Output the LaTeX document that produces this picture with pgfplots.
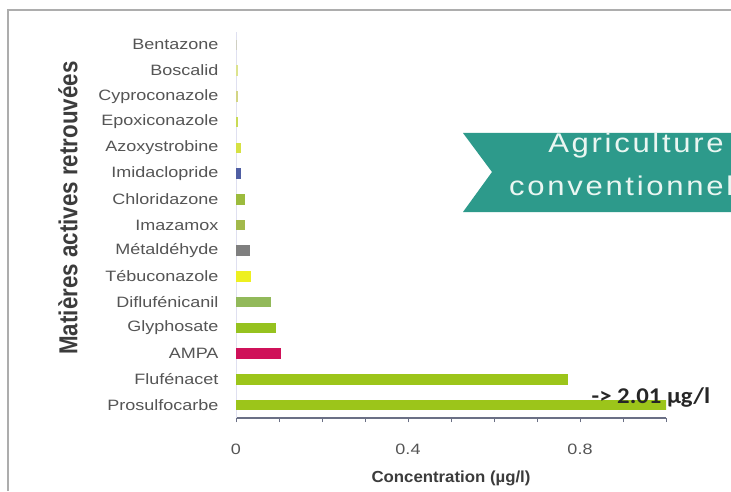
\documentclass[border=0pt]{standalone}
\usepackage{pgfplots}
\pgfplotsset{compat=1.18}
\usepackage{fontspec}
\setmainfont{Liberation Sans}
\newfontfamily\catfont[FakeStretch=1.2]{Liberation Sans}
\newfontfamily\yfont[FakeStretch=0.86]{Liberation Sans}
\newfontfamily\xfont[FakeStretch=1.05]{Liberation Sans}
\newfontfamily\bannerfont[FakeStretch=1.15,LetterSpace=10]{Liberation Sans}
\newfontfamily\notefont[FakeStretch=1.1]{Carlito}

\definecolor{framegray}{HTML}{ADADAD}
\definecolor{labelgray}{HTML}{555555}
\definecolor{titlegray}{HTML}{3C3C3C}
\definecolor{axisgray}{HTML}{6B7085}
\definecolor{ytickcol}{HTML}{C9CCE6}
\definecolor{banner}{HTML}{2D9A8B}
\definecolor{bannertext}{HTML}{EAF6F2}
\definecolor{cBenta}{HTML}{CFCFC2}
\definecolor{cBosca}{HTML}{DCE38E}
\definecolor{cCypro}{HTML}{D3D584}
\definecolor{cEpoxi}{HTML}{C9DA55}
\definecolor{cAzoxy}{HTML}{D6E143}
\definecolor{cImida}{HTML}{4F5EA3}
\definecolor{cChlor}{HTML}{9CBB3D}
\definecolor{cImaza}{HTML}{A2B94B}
\definecolor{cMetal}{HTML}{7F7F7F}
\definecolor{cTebu}{HTML}{EEF020}
\definecolor{cDiflu}{HTML}{92B95A}
\definecolor{cGlyph}{HTML}{96C21F}
\definecolor{cAMPA}{HTML}{CF1159}
\definecolor{cFlufe}{HTML}{9CC51A}
\definecolor{cProsu}{HTML}{9CC51A}

\begin{document}
\begin{tikzpicture}[x=1pt,y=1pt]
\useasboundingbox (0,0) rectangle (731,491);
\begin{scope}
  \clip (0,0) rectangle (731,491);
  \fill[white] (0,0) rectangle (731,491);
  % outer frame (top and left edges)
  \draw[framegray, line width=1.5pt] (8,0) -- (8,481) -- (740,481);
  % banner
  \fill[banner] (463,358) -- (760,358) -- (760,279) -- (463,279) -- (492,319) -- cycle;
  \node[anchor=base, text=bannertext, font=\bannerfont\fontsize{27}{31}\selectfont, inner sep=0pt]
    at (636,338) {Agriculture};
  \node[anchor=base, text=bannertext, font=\bannerfont\fontsize{27}{31}\selectfont, inner sep=0pt]
    at (636,296) {conventionnelle};
\end{scope}
\begin{axis}[
  at={(236pt,73pt)}, anchor=south west,
  scale only axis, width=430pt, height=386pt,
  xmin=0, xmax=1, ymin=-0.5, ymax=14.5,
  xbar, clip mode=individual,
  axis x line*=bottom, axis y line*=left,
  x axis line style={axisgray, line width=2.2pt},
  y axis line style={ytickcol!60, line width=0.6pt},
  xtick={0,0.4,0.8},
  minor xtick={0,0.1,...,1.0},
  tick align=outside,
  major tick length=4pt, minor tick length=4pt,
  x tick style={axisgray, line width=1pt},
  minor x tick style={axisgray, line width=1pt},
  ytick={0,...,14},
  yticklabels={Prosulfocarbe,Flufénacet,AMPA,Glyphosate,Diflufénicanil,Tébuconazole,Métaldéhyde,Imazamox,Chloridazone,Imidaclopride,Azoxystrobine,Epoxiconazole,Cyproconazole,Boscalid,Bentazone},
  y tick style={draw=none},
  minor ytick={0.5,1.5,...,14.5},
  minor y tick style={ytickcol, line width=0.8pt},
  /pgf/number format/assume math mode=true,
  xticklabel style={font=\catfont\fontsize{15}{18}\selectfont, text=labelgray, yshift=-18pt},
  yticklabel style={font=\catfont\fontsize{15}{18}\selectfont, text=labelgray, anchor=east, xshift=-10pt},
  xlabel={Concentration (µg/l)},
  xlabel style={font=\xfont\bfseries\fontsize{16}{19}\selectfont, text=titlegray,
    at={(axis description cs:0.5,-0.1554)}, anchor=center},
  ylabel={Matières actives retrouvées},
  ylabel style={font=\yfont\bfseries\fontsize{26}{30}\selectfont, text=titlegray,
    at={(axis description cs:-0.3907,0.544)}, anchor=center},
  mybar/.style={fill=#1, draw=none, bar shift=0pt, bar width=10.5pt},
]
\addplot[mybar=cProsu] coordinates {(2.01,0)};
\addplot[mybar=cFlufe] coordinates {(0.772,1)};
\addplot[mybar=cAMPA]  coordinates {(0.105,2)};
\addplot[mybar=cGlyph] coordinates {(0.093,3)};
\addplot[mybar=cDiflu] coordinates {(0.081,4)};
\addplot[mybar=cTebu]  coordinates {(0.035,5)};
\addplot[mybar=cMetal] coordinates {(0.033,6)};
\addplot[mybar=cImaza] coordinates {(0.022,7)};
\addplot[mybar=cChlor] coordinates {(0.022,8)};
\addplot[mybar=cImida] coordinates {(0.011,9)};
\addplot[mybar=cAzoxy] coordinates {(0.011,10)};
\addplot[mybar=cEpoxi] coordinates {(0.005,11)};
\addplot[mybar=cCypro] coordinates {(0.005,12)};
\addplot[mybar=cBosca] coordinates {(0.004,13)};
\addplot[mybar=cBenta] coordinates {(0.003,14)};
\node[font=\notefont\bfseries\fontsize{22.5}{26}\selectfont, text=black!85, anchor=center]
  at (axis cs:0.965,0.31) {{-}{>} 2.01 µg/l};
\end{axis}
\end{tikzpicture}
\end{document}
